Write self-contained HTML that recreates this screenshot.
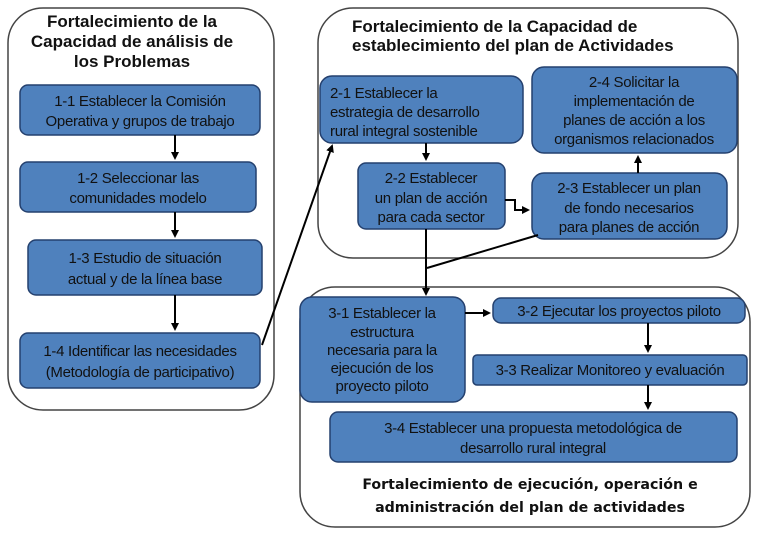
<!DOCTYPE html>
<html><head><meta charset="utf-8"><style>
html,body{margin:0;padding:0;background:#fff;}
svg{display:block;}
.b{fill:#4f81bd;stroke:#24406e;stroke-width:1.5;}
.c{fill:#fff;stroke:#444;stroke-width:1.5;}
.t{font-family:"Liberation Sans",sans-serif;font-size:15px;fill:#111;text-anchor:middle;letter-spacing:-0.3px;}
.h{font-family:"Liberation Sans",sans-serif;font-size:17px;font-weight:bold;fill:#111;}
.l{stroke:#000;stroke-width:2;fill:none;}
</style></head><body>
<svg width="767" height="535" viewBox="0 0 767 535">
<defs><marker id="a" markerWidth="8" markerHeight="8" refX="6" refY="4" orient="auto" markerUnits="userSpaceOnUse"><path d="M0,0 L8,4 L0,8z" fill="#000"/></marker></defs>
<rect class="c" x="8" y="8" width="266" height="402" rx="35"/>
<rect class="c" x="318" y="8" width="420" height="250" rx="35"/>
<rect class="c" x="300" y="287" width="450" height="240" rx="35"/>

<text class="h" x="132" y="27" text-anchor="middle">Fortalecimiento de la</text>
<text class="h" x="132" y="47" text-anchor="middle">Capacidad de análisis de</text>
<text class="h" x="132" y="67" text-anchor="middle">los Problemas</text>

<rect class="b" x="20" y="85" width="240" height="50" rx="8"/>
<text class="t" x="140" y="106">1-1  Establecer la Comisión</text>
<text class="t" x="140" y="126">Operativa y grupos de trabajo</text>
<rect class="b" x="20" y="162" width="236" height="50" rx="8"/>
<text class="t" x="138" y="183">1-2  Seleccionar las</text>
<text class="t" x="138" y="203">comunidades modelo</text>
<rect class="b" x="28" y="240" width="234" height="55" rx="8"/>
<text class="t" x="145" y="263">1-3  Estudio de situación</text>
<text class="t" x="145" y="284">actual y de la línea base</text>
<rect class="b" x="20" y="333" width="240" height="55" rx="8"/>
<text class="t" x="140" y="356">1-4  Identificar las necesidades</text>
<text class="t" x="140" y="377">(Metodología de participativo)</text>
<path class="l" d="M175,135 V158" marker-end="url(#a)"/>
<path class="l" d="M175,212 V236" marker-end="url(#a)"/>
<path class="l" d="M175,295 V329" marker-end="url(#a)"/>

<text class="h" x="352" y="32">Fortalecimiento de la Capacidad de</text>
<text class="h" x="352" y="51">establecimiento del plan de Actividades</text>
<rect class="b" x="320" y="76" width="203" height="67" rx="12"/>
<text class="t" x="330" y="98" style="text-anchor:start">2-1  Establecer la</text>
<text class="t" x="330" y="117" style="text-anchor:start">estrategia de desarrollo</text>
<text class="t" x="330" y="136" style="text-anchor:start">rural integral sostenible</text>
<rect class="b" x="532" y="67" width="205" height="86" rx="12"/>
<text class="t" x="634" y="87">2-4  Solicitar la</text>
<text class="t" x="634" y="106">implementación de</text>
<text class="t" x="634" y="125">planes de acción a los</text>
<text class="t" x="634" y="144">organismos relacionados</text>
<rect class="b" x="358" y="163" width="147" height="66" rx="8"/>
<text class="t" x="431" y="183">2-2  Establecer</text>
<text class="t" x="431" y="203">un plan de acción</text>
<text class="t" x="431" y="222">para cada sector</text>
<rect class="b" x="532" y="173" width="195" height="66" rx="12"/>
<text class="t" x="629" y="193">2-3  Establecer un plan</text>
<text class="t" x="629" y="213">de fondo necesarios</text>
<text class="t" x="629" y="232">para planes de acción</text>
<path class="l" d="M426,143 V159" marker-end="url(#a)"/>
<path class="l" d="M638,173 V157" marker-end="url(#a)"/>
<path class="l" d="M505,200 H515 V210 H528" marker-end="url(#a)"/>
<path class="l" d="M426,229 V294" marker-end="url(#a)"/>
<path class="l" d="M538,235 L427,268"/>
<path class="l" d="M262,345 L332,146" marker-end="url(#a)"/>

<rect class="b" x="300" y="297" width="165" height="105" rx="12"/>
<text class="t" x="382" y="318">3-1  Establecer la</text>
<text class="t" x="382" y="337">estructura</text>
<text class="t" x="382" y="355">necesaria para la</text>
<text class="t" x="382" y="373">ejecución de los</text>
<text class="t" x="382" y="391">proyecto piloto</text>
<rect class="b" x="493" y="298" width="252" height="25" rx="8"/>
<text class="t" x="619" y="316">3-2  Ejecutar los proyectos piloto</text>
<rect class="b" x="473" y="355" width="274" height="30" rx="4"/>
<text class="t" x="610" y="375">3-3  Realizar Monitoreo y evaluación</text>
<rect class="b" x="330" y="412" width="407" height="50" rx="8"/>
<text class="t" x="533" y="433">3-4  Establecer una propuesta metodológica de</text>
<text class="t" x="533" y="453">desarrollo rural integral</text>
<path class="l" d="M465,313 H489" marker-end="url(#a)"/>
<path class="l" d="M648,323 V351" marker-end="url(#a)"/>
<path class="l" d="M648,385 V408" marker-end="url(#a)"/>
<text class="h" x="530" y="489" text-anchor="middle" style="font-family:'DejaVu Sans',sans-serif;font-size:14.2px">Fortalecimiento de ejecución, operación e</text>
<text class="h" x="530" y="512" text-anchor="middle" style="font-family:'DejaVu Sans',sans-serif;font-size:14.2px">administración del plan de actividades</text>
</svg>
</body></html>
